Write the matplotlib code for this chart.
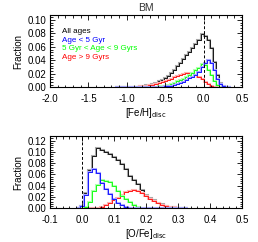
import numpy as np
import matplotlib
matplotlib.use("Agg")
import matplotlib.pyplot as plt
from matplotlib.ticker import MultipleLocator, AutoMinorLocator, FormatStrFormatter

plt.rcParams['font.family'] = ['Liberation Sans', 'DejaVu Sans']

# ---------------- data ----------------
feh_bin = 0.04
feh_centers = np.round(np.arange(-1.14, 0.34 + 1e-9, feh_bin), 4)
feh_all = [0.0, 0.0001, 0.0001, 0.0002, 0.0003, 0.0005, 0.0007, 0.001, 0.0015, 0.002,
           0.003, 0.004, 0.005, 0.007, 0.009, 0.011, 0.014, 0.017, 0.021, 0.026,
           0.031, 0.036, 0.042, 0.048, 0.053, 0.058, 0.064, 0.071, 0.079, 0.077,
           0.070, 0.058, 0.038, 0.019, 0.007, 0.002, 0.0005, 0.0]
feh_young = [0, 0, 0, 0, 0, 0, 0, 0, 0, 0, 0, 0, 0.0002,
             0.0003, 0.0005, 0.0008, 0.0012, 0.0017, 0.0025, 0.0035, 0.0048, 0.006,
             0.008, 0.0108, 0.0135, 0.016, 0.019, 0.023, 0.030,
             0.036, 0.041, 0.036, 0.025, 0.013, 0.005, 0.0015, 0.0003, 0.0]
feh_mid = [0, 0, 0, 0, 0, 0, 0, 0.0001,
           0.0002, 0.0003, 0.0004, 0.0005, 0.0006, 0.0008, 0.0012, 0.0018, 0.0025, 0.0035,
           0.005, 0.007, 0.009, 0.011, 0.013, 0.0157, 0.018, 0.021, 0.025, 0.029, 0.034,
           0.033, 0.026, 0.018, 0.010, 0.004, 0.001, 0.0, 0.0, 0.0]
feh_old = [0.0, 0.0001, 0.0001, 0.0002, 0.0003, 0.0005, 0.0007, 0.001, 0.0013, 0.0017,
           0.0022, 0.003, 0.004, 0.005, 0.0062, 0.0075, 0.009, 0.011, 0.013, 0.015,
           0.017, 0.019, 0.020, 0.021, 0.0215, 0.021, 0.019, 0.016, 0.012, 0.008,
           0.005, 0.0025, 0.001, 0.0003, 0.0, 0.0, 0.0, 0.0]

ofe_bin = 0.0125
ofe_centers = np.round(np.arange(-0.0125, 0.325 + 1e-9, ofe_bin), 5)
ofe_all = [0.0005, 0.004, 0.027, 0.068, 0.092, 0.106, 0.103, 0.100, 0.096, 0.091,
           0.085, 0.078, 0.069, 0.058, 0.050, 0.043, 0.033, 0.024, 0.018, 0.014,
           0.010, 0.007, 0.0045, 0.003, 0.002, 0.001, 0.0005, 0.0]
ofe_young = [0.0005, 0.0035, 0.024, 0.065, 0.070, 0.062, 0.045, 0.035, 0.025, 0.017,
             0.010, 0.005, 0.002, 0.0005, 0, 0, 0, 0, 0, 0, 0, 0, 0, 0, 0, 0, 0, 0]
ofe_mid = [0, 0, 0.002, 0.012, 0.030, 0.042, 0.050, 0.049, 0.046, 0.040,
           0.030, 0.022, 0.016, 0.011, 0.006, 0.003, 0.001, 0, 0, 0, 0, 0, 0, 0, 0, 0, 0, 0]
ofe_old = [0, 0, 0, 0, 0, 0.0005, 0.002, 0.005, 0.009, 0.014,
           0.019, 0.024, 0.028, 0.031, 0.032, 0.030, 0.027, 0.022, 0.017, 0.013,
           0.009, 0.0065, 0.0043, 0.0028, 0.0018, 0.001, 0.0005, 0.0]

legend_labels = ["All ages", "Age < 5 Gyr", "5 Gyr < Age < 9 Gyrs", "Age > 9 Gyrs"]
dark_colors = ["black", "#0000ff", "#00ff00", "#ff0000"]
light_colors = ["#a8a8a8", "#a8a8ff", "#b0ffb0", "#ffb0b0"]

W, H = 258, 242
fig = plt.figure(figsize=(W / 100, H / 100), dpi=100)

def px_axes(l, t, r, b):
    return fig.add_axes([l / W, 1 - b / H, (r - l) / W, (b - t) / H])

ax1 = px_axes(50, 15, 242, 87.3)
ax2 = px_axes(50, 136, 242, 208.3)

def edges_from(centers, w):
    c = np.asarray(centers)
    return np.append(c - w / 2, c[-1] + w / 2)

def draw(ax, centers, w, series):
    e = edges_from(centers, w)
    for vals, dc, lc in series:
        ax.stairs(vals, e, color=lc, lw=1.5, baseline=None)
        ax.stairs(vals, e, color=dc, lw=0.6, baseline=None)

draw(ax1, feh_centers, feh_bin,
     [(feh_all, dark_colors[0], light_colors[0]),
      (feh_old, dark_colors[3], light_colors[3]),
      (feh_mid, dark_colors[2], light_colors[2]),
      (feh_young, dark_colors[1], light_colors[1])])
draw(ax2, ofe_centers, ofe_bin,
     [(ofe_all, dark_colors[0], light_colors[0]),
      (ofe_old, dark_colors[3], light_colors[3]),
      (ofe_mid, dark_colors[2], light_colors[2]),
      (ofe_young, dark_colors[1], light_colors[1])])

fs = 7
for ax in (ax1, ax2):
    ax.axvline(0.0, color='black', ls=(0, (3, 2)), lw=0.7)
    ax.tick_params(which='both', direction='in', top=True, right=True,
                   labelsize=fs, pad=2.5, width=0.6)
    ax.tick_params(which='major', length=3.5)
    ax.tick_params(which='minor', length=1.8)
    for s in ax.spines.values():
        s.set_linewidth(0.8)
    ax.set_ylabel("Fraction", fontsize=fs, labelpad=3)
    ax.yaxis.set_major_formatter(FormatStrFormatter('%.2f'))
    ax.xaxis.set_major_formatter(FormatStrFormatter('%.1f'))
    ax.yaxis.set_minor_locator(AutoMinorLocator(5))

ax1.set_xlim(-2.0, 0.5)
ax1.set_ylim(0, 0.1075)
ax1.xaxis.set_major_locator(MultipleLocator(0.5))
ax1.xaxis.set_minor_locator(AutoMinorLocator(5))
ax1.yaxis.set_major_locator(MultipleLocator(0.02))
ax1.tick_params(axis='x', pad=5)
ax1.set_xlabel(r"[Fe/H]$_{\rm disc}$", fontsize=fs, labelpad=1)
ax1.set_title("BM", fontsize=7.5, pad=3, color='#333333')

ax2.set_xlim(-0.1, 0.5)
ax2.set_ylim(0, 0.128)
ax2.xaxis.set_major_locator(MultipleLocator(0.1))
ax2.xaxis.set_minor_locator(AutoMinorLocator(5))
ax2.yaxis.set_major_locator(MultipleLocator(0.02))
ax2.tick_params(axis='x', pad=5)
ax2.set_xlabel(r"[O/Fe]$_{\rm disc}$", fontsize=fs, labelpad=1)

for i, (lab, col) in enumerate(zip(legend_labels, dark_colors)):
    ax1.text(0.065, 0.77 - i * 0.117, lab, color=col, fontsize=5.8,
             transform=ax1.transAxes, ha='left', va='center')

fig.savefig("out.png", dpi=100)
